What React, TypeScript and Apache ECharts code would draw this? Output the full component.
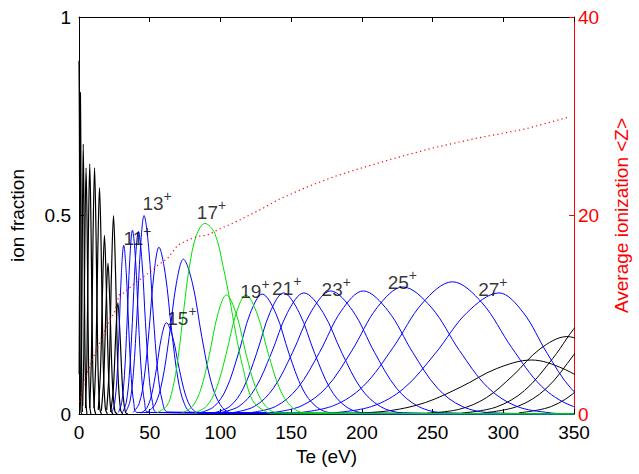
import React, { useEffect, useRef } from "react";
import * as echarts from "echarts";

// ---- ion fraction curves: [Te (eV), fraction] ----
const blackLow: number[][][] = [
  [[0, 0.89], [0.25, 0.75], [0.5, 0.45], [0.75, 0.19], [1, 0.06], [1.4, 0.005], [2, 0]],
  [[0.1, 0.1], [0.45, 0.4], [0.72, 0.68], [1.0, 0.81], [1.28, 0.68], [1.55, 0.4], [1.9, 0.1], [2.4, 0.005]],
  [[1.2, 0.04], [1.9, 0.2], [2.5, 0.52], [3.0, 0.68], [3.5, 0.52], [4.1, 0.2], [4.9, 0.03], [5.6, 0]],
  [[2.6, 0.02], [3.4, 0.15], [4.2, 0.45], [5.0, 0.62], [5.8, 0.45], [6.7, 0.14], [7.6, 0.02], [8.4, 0]],
  [[4.6, 0.015], [5.6, 0.14], [6.6, 0.44], [7.6, 0.63], [8.6, 0.44], [9.7, 0.12], [10.8, 0.015], [11.8, 0]],
  [[7.6, 0.015], [8.8, 0.15], [9.9, 0.44], [11.0, 0.62], [12.1, 0.44], [13.3, 0.14], [14.6, 0.015], [15.8, 0]],
  [[10.6, 0.015], [12, 0.15], [13.3, 0.41], [14.5, 0.57], [15.7, 0.41], [17.1, 0.13], [18.6, 0.015], [20, 0]],
  [[13.6, 0.01], [15.2, 0.11], [16.7, 0.32], [18, 0.45], [19.3, 0.32], [20.9, 0.1], [22.5, 0.01], [24, 0]],
  [[15.8, 0.008], [17.5, 0.09], [19.1, 0.27], [20.5, 0.38], [21.9, 0.27], [23.6, 0.08], [25.3, 0.008], [27, 0]],
  [[19.6, 0.01], [21.4, 0.12], [23, 0.36], [24.4, 0.5], [25.8, 0.36], [27.6, 0.1], [29.4, 0.01], [31, 0]],
  [[22.4, 0.005], [24.3, 0.065], [26, 0.2], [27.5, 0.28], [29, 0.2], [30.9, 0.06], [32.8, 0.005], [34.5, 0]],
];

// 10+ .. 16+
const blueLow: number[][][] = [
  [[23.3, 0.004], [25.2, 0.027], [26.8, 0.089], [28.4, 0.213], [30, 0.357], [31.6, 0.425], [33.4, 0.357], [35.2, 0.213], [37, 0.089], [38.8, 0.027], [41, 0.004], [350, 0]],
  [[27.9, 0.004], [30.2, 0.029], [32.1, 0.097], [34, 0.232], [35.9, 0.389], [37.8, 0.463], [39.95, 0.389], [42.1, 0.232], [44.25, 0.097], [46.4, 0.029], [49, 0.004], [350, 0]],
  [[30.8, 0.004], [33.4, 0.029], [35.55, 0.097], [37.7, 0.23], [39.85, 0.386], [42, 0.46], [44.5, 0.386], [47, 0.23], [49.5, 0.097], [52, 0.029], [55, 0.004], [350, 0]],
  [[33, 0.005], [36, 0.031], [38.5, 0.105], [41, 0.25], [43.5, 0.42], [46, 0.5], [49.25, 0.42], [52.5, 0.25], [55.75, 0.105], [59, 0.031], [62.9, 0.005], [350, 0]],
  [[38.3, 0.004], [42.5, 0.026], [46, 0.088], [49.5, 0.21], [53, 0.353], [56.5, 0.42], [61, 0.353], [65.5, 0.21], [70, 0.088], [74.5, 0.026], [79.9, 0.004], [350, 0]],
  [[43.6, 0.002], [47.8, 0.014], [51.3, 0.048], [54.8, 0.115], [58.3, 0.193], [61.8, 0.23], [66.3, 0.193], [70.8, 0.115], [75.3, 0.048], [79.8, 0.014], [85.2, 0.002], [350, 0]],
  [[47.8, 0.0035], [53.8, 0.024], [58.8, 0.082], [63.8, 0.195], [68.8, 0.328], [73.8, 0.39], [80.3, 0.328], [86.8, 0.195], [93.3, 0.082], [99.8, 0.024], [107.6, 0.0035], [350, 0]],
];

// 17+ .. 19+
const green: number[][][] = [
  [[55, 0.003], [62, 0.02], [66, 0.06], [70, 0.14], [74, 0.26], [78, 0.37], [83, 0.45], [89, 0.48], [96, 0.455], [102, 0.37], [106.5, 0.29], [111, 0.2], [115.7, 0.12], [122.6, 0.035], [132, 0.006], [140, 0], [350, 0]],
  [[73, 0.003], [80.2, 0.019], [86.2, 0.063], [92.2, 0.15], [98.2, 0.252], [104.2, 0.3], [111.2, 0.252], [118.2, 0.15], [125.2, 0.063], [132.2, 0.019], [140.6, 0.003], [350, 0]],
  [[81.6, 0.003], [90, 0.019], [97, 0.063], [104, 0.15], [111, 0.252], [118, 0.3], [126, 0.252], [134, 0.15], [142, 0.063], [150, 0.019], [159.6, 0.003], [350, 0]],
];

// 20+ .. 27+
const blueHigh: number[][][] = [
  [[85.4, 0.003], [95.6, 0.019], [104.1, 0.063], [112.6, 0.151], [121.1, 0.254], [129.6, 0.302], [139.1, 0.254], [148.6, 0.151], [158.1, 0.063], [167.6, 0.019], [179, 0.003], [350, 0]],
  [[95.2, 0.003], [106.6, 0.019], [116.1, 0.064], [125.6, 0.153], [135.1, 0.256], [144.6, 0.305], [155.6, 0.256], [166.6, 0.153], [177.6, 0.064], [188.6, 0.019], [201.8, 0.003], [350, 0]],
  [[99.2, 0.003], [113, 0.019], [124.5, 0.064], [136, 0.153], [147.5, 0.256], [159, 0.305], [172.5, 0.256], [186, 0.153], [199.5, 0.064], [213, 0.019], [229.2, 0.003], [350, 0]],
  [[107.8, 0.003], [124, 0.019], [137.5, 0.065], [151, 0.155], [164.5, 0.26], [178, 0.31], [193.5, 0.26], [209, 0.155], [224.5, 0.065], [240, 0.019], [258.6, 0.003], [350, 0]],
  [[120.4, 0.003], [139, 0.019], [154.5, 0.065], [170, 0.155], [185.5, 0.26], [201, 0.31], [218.5, 0.26], [236, 0.155], [253.5, 0.065], [271, 0.019], [292, 0.003], [350, 0]],
  [[135.4, 0.003], [157, 0.02], [175, 0.067], [193, 0.16], [211, 0.269], [229, 0.32], [249, 0.269], [269, 0.16], [289, 0.067], [309, 0.02], [333, 0.003], [350, 0]],
  [[154.8, 0.003], [180, 0.021], [201, 0.07], [222, 0.167], [243, 0.28], [264, 0.333], [285, 0.28], [306, 0.167], [327, 0.07], [348, 0.021], [373.2, 0.003]],
  [[180, 0.003], [207, 0.019], [229.5, 0.064], [252, 0.153], [274.5, 0.256], [297, 0.305], [314, 0.256], [331, 0.153], [348, 0.064], [365, 0.019], [385, 0.003]],
];

// 28+ and above
const blackHigh: number[][][] = [
  [[190, 0.001], [220, 0.0085], [245, 0.029], [270, 0.068], [295, 0.114], [320, 0.136], [342.5, 0.114], [365, 0.068]],
  [[246, 0.002], [269, 0.012], [288, 0.041], [307, 0.0975], [326, 0.164], [345, 0.195], [364, 0.164], [383, 0.0975]],
  [[271, 0.0025], [295, 0.0175], [315, 0.059], [335, 0.14], [355, 0.235], [375, 0.28]],
  [[286, 0.003], [310, 0.019], [330, 0.063], [350, 0.15], [370, 0.252], [390, 0.3]],
  [[311, 0.003], [334, 0.019], [353, 0.063], [372, 0.15], [391, 0.252], [410, 0.3]],
];

// ---- average ionization <Z> (right axis) ----
const zTe = [0.5, 3, 6.5, 11, 15.7, 19, 22.6, 25, 28.4, 31.6, 38, 44.3, 50, 55.8, 62.7, 69.7, 76.6, 83.5, 90.4, 97.3, 110, 120, 131, 141, 160, 180, 200, 224, 250, 281.7, 315, 346];
const zAvg = [1.2, 2.8, 4.4, 6.0, 7.5, 8.7, 9.7, 10.2, 12.0, 12.2, 13.0, 13.7, 14.3, 15.0, 15.7, 17.0, 17.5, 17.9, 18.0, 18.5, 19.3, 20.0, 20.8, 21.6, 22.8, 23.9, 24.8, 25.8, 26.8, 27.8, 28.7, 29.9];

// ---- charge-state labels ----
const labelIon = ["11", "13", "15", "17", "19", "21", "23", "25", "27"];
const labelTe = [41.4, 55.2, 72.8, 93.7, 124.4, 146.9, 181.9, 228.6, 292.6];
const labelFrac = [0.448, 0.536, 0.248, 0.515, 0.315, 0.322, 0.32, 0.3375, 0.321];

const FONT = "'Liberation Sans', Arial, Helvetica, sans-serif";

export default function App() {
  const ref = useRef<HTMLDivElement>(null);

  useEffect(() => {
    if (!ref.current) return;
    const chart = echarts.init(ref.current, undefined, { renderer: "svg" });

    const curve = (data: number[][], color: string, width = 1) => ({
      type: "line",
      data,
      xAxisIndex: 0,
      yAxisIndex: 0,
      showSymbol: false,
      symbol: "none",
      smooth: 0.35,
      clip: true,
      lineStyle: { color, width },
      silent: true,
    });

    const series: any[] = [
      ...blackLow.map((d) => curve(d, "#000000", 1.2)),
      ...blackHigh.map((d) => curve(d, "#000000")),
      ...blueLow.map((d) => curve(d, "#0000ff")),
      ...blueHigh.map((d) => curve(d, "#0000ff")),
      ...green.map((d) => curve(d, "#00e000")),
      {
        type: "line",
        xAxisIndex: 0,
        yAxisIndex: 1,
        data: zTe.map((t, i) => [t, zAvg[i]]),
        showSymbol: false,
        symbol: "none",
        lineStyle: { color: "#ff0000", width: 1.2, type: [1.2, 3.2] },
        silent: true,
        z: 5,
      },
      {
        type: "scatter",
        xAxisIndex: 0,
        yAxisIndex: 0,
        symbolSize: 1,
        itemStyle: { color: "rgba(0,0,0,0)" },
        data: labelTe.map((t, i) => ({ value: [t, labelFrac[i]], name: labelIon[i] })),
        z: 10,
        label: {
          show: true,
          position: "inside",
          color: "#000",
          textBorderWidth: 0,
          textShadowBlur: 0,
          formatter: (p: any) => `{n|${p.name}}{s|+}`,
          rich: {
            n: { fontSize: 19, lineHeight: 24, verticalAlign: "bottom", color: "#000", textBorderWidth: 0, fontFamily: FONT },
            s: { fontSize: 14, lineHeight: 14, verticalAlign: "top", color: "#000", textBorderWidth: 0, fontFamily: FONT },
          },
        },
        silent: true,
      },
    ];

    chart.setOption({
      animation: false,
      backgroundColor: "#ffffff",
      grid: { left: 76, right: 57, top: 17, bottom: 60, containLabel: false },
      xAxis: [
        {
          type: "value",
          min: 0,
          max: 350,
          interval: 50,
          position: "bottom",
          axisLine: { show: true, onZero: false, lineStyle: { color: "#000", width: 1 } },
          axisTick: { show: true, inside: true, length: 5, lineStyle: { color: "#000" } },
          axisLabel: { color: "#000", fontSize: 19, margin: 9, fontFamily: FONT },
          splitLine: { show: false },
          name: "Te (eV)",
          nameLocation: "middle",
          nameGap: 33,
          nameTextStyle: { color: "#000", fontSize: 19, fontFamily: FONT },
        },
        {
          type: "value",
          min: 0,
          max: 350,
          interval: 50,
          position: "top",
          axisLine: { show: true, onZero: false, lineStyle: { color: "#000", width: 1 } },
          axisTick: { show: true, inside: true, length: 5, lineStyle: { color: "#000" } },
          axisLabel: { show: false },
          splitLine: { show: false },
        },
      ],
      yAxis: [
        {
          type: "value",
          min: 0,
          max: 1,
          interval: 0.5,
          position: "left",
          axisLine: { show: true, onZero: false, lineStyle: { color: "#000", width: 1 } },
          axisTick: { show: true, inside: true, length: 5, lineStyle: { color: "#000" } },
          axisLabel: { color: "#000", fontSize: 19, margin: 8, fontFamily: FONT },
          splitLine: { show: false },
          name: "ion fraction",
          nameLocation: "middle",
          nameRotate: 90,
          nameGap: 52,
          nameTextStyle: { color: "#000", fontSize: 19, fontFamily: FONT },
        },
        {
          type: "value",
          min: 0,
          max: 40,
          interval: 20,
          position: "right",
          axisLine: { show: true, onZero: false, lineStyle: { color: "#ff0000", width: 1 } },
          axisTick: { show: true, inside: true, length: 5, lineStyle: { color: "#ff0000" } },
          axisLabel: { color: "#ff0000", fontSize: 19, margin: 4, fontFamily: FONT },
          splitLine: { show: false },
          name: "Average ionization <Z>",
          nameLocation: "middle",
          nameRotate: 90,
          nameGap: 38,
          nameTextStyle: { color: "#ff0000", fontSize: 19, fontFamily: FONT },
        },
      ],
      series,
    });

    return () => chart.dispose();
  }, []);

  return (
    <div
      ref={ref}
      style={{ position: "absolute", left: 0, top: 0, width: 639, height: 474, background: "#fff" }}
    />
  );
}
